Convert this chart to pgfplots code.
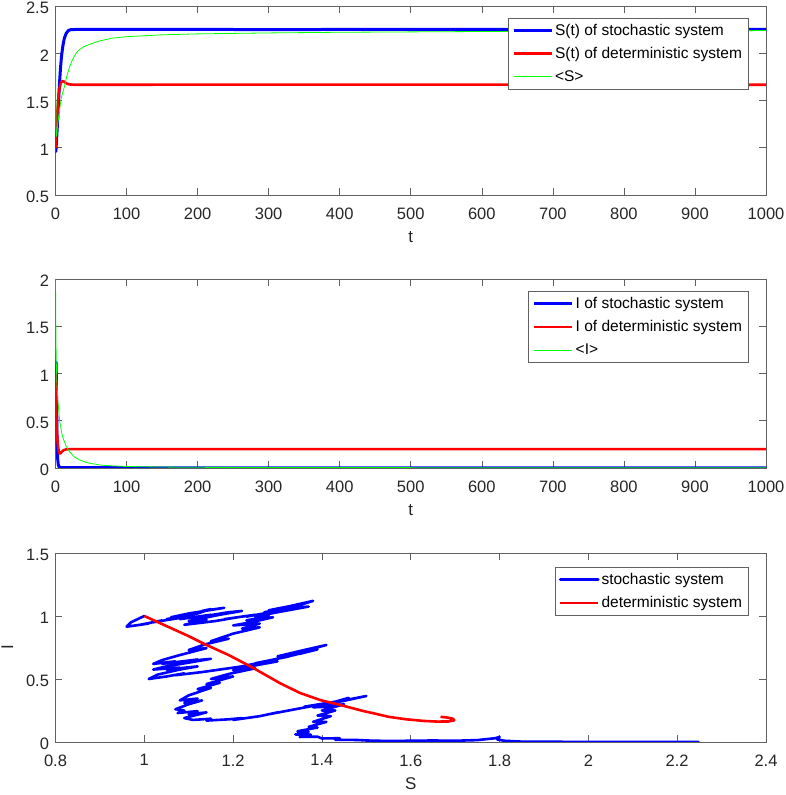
\documentclass[border=0pt]{standalone}
\usepackage{fontspec}
\setmainfont{Liberation Sans}
\usepackage{pgfplots}
\pgfplotsset{compat=1.18}
\definecolor{axgray}{rgb}{0.38,0.38,0.38}
\definecolor{txtgray}{rgb}{0.15,0.15,0.15}
\pgfplotsset{
  mybase/.style={
    width=710.5pt, height=189pt, scale only axis,
    axis line style={axgray, line width=0.6pt},
    every tick/.style={axgray, line width=0.6pt},
    major tick length=7pt,
    tick align=inside, tick pos=both,
    ticklabel style={font=\fontsize{16.5}{19}\selectfont, text=txtgray},
    xticklabel shift=9pt,
    yticklabel shift=3pt,
    yticklabel style={yshift=-2pt},
    label style={font=\fontsize{17}{20}\selectfont, text=txtgray},
    xlabel shift=5pt,
    /pgf/number format/assume math mode=true,
    /pgf/number format/1000 sep={},
    scaled ticks=false,
    enlargelimits=false,
    clip=true,
    legend style={font=\fontsize{15.5}{18}\selectfont, draw=axgray, line width=0.6pt,
      fill=white, anchor=north east, inner xsep=4pt, inner ysep=4pt, row sep=6.5pt},
    legend cell align=left,
    legend image code/.code={\draw[##1] (0pt,0pt) -- (38pt,0pt);},
  }
}
\begin{document}
\begin{tikzpicture}[x=1pt,y=1pt]
\path[use as bounding box] (0,0) rectangle (785,795);

% ---------------- top panel ----------------
\begin{axis}[mybase, at={(55.5pt,600pt)}, anchor=south west,
  xmin=0, xmax=1000, ymin=0.5, ymax=2.5,
  xtick={0,100,...,1000}, ytick={0.5,1,1.5,2,2.5},
  xlabel={t},
  legend style={at={(0.975,0.937)}}]
\addplot[blue, line width=3pt, line join=round] coordinates {
(0,1.0) (0.5,0.96) (1,1.02) (2,1.15) (3.3,1.33) (4.5,1.52) (5.7,1.69) (7,1.84)
(8.5,1.97) (10.4,2.08) (12.5,2.16) (15,2.21) (18,2.24) (22,2.25) (30,2.252)
(100,2.252) (300,2.251) (600,2.252) (1000,2.252)};
\addlegendentry{S(t) of stochastic system}
\addplot[red, line width=2.6pt, line join=round] coordinates {
(0,1.0) (1,1.15) (2,1.3) (3,1.42) (4,1.52) (5,1.59) (6,1.64) (7,1.675) (8.5,1.697)
(10,1.705) (12,1.70) (14,1.688) (17,1.675) (21,1.669) (30,1.667) (100,1.667)
(400,1.668) (1000,1.667)};
\addlegendentry{S(t) of deterministic system}
\addplot[green, line width=0.8pt, line join=round] coordinates {
(0,2.0) (0.4,1.6) (0.8,1.2) (1.2,1.12) (2,1.17) (3.3,1.26) (4.5,1.33) (5.7,1.40)
(8,1.52) (10,1.58) (12.7,1.65) (16,1.76) (20,1.86) (25,1.95) (30,2.01) (34,2.04)
(40,2.07) (50,2.10) (62,2.13) (80,2.16) (100,2.175) (150,2.195) (200,2.205)
(300,2.215) (400,2.222) (600,2.23) (800,2.235) (1000,2.24)};
\addlegendentry{<S>}
\end{axis}

% ---------------- middle panel ----------------
\begin{axis}[mybase, at={(55.5pt,327pt)}, anchor=south west,
  xmin=0, xmax=1000, ymin=0, ymax=2,
  xtick={0,100,...,1000}, ytick={0,0.5,1,1.5,2},
  xlabel={t},
  legend style={at={(0.975,0.936)}}]
\addplot[blue, line width=3pt, line join=round] coordinates {
(0,1.0) (0.4,1.12) (0.9,1.12) (1.5,0.7) (2.2,0.3) (3,0.1) (4,0.03) (5,0.012)
(7,0.006) (10,0.004) (50,0.003) (200,0.002) (1000,0.002)};
\addlegendentry{I of stochastic system}
\addplot[red, line width=2.6pt, line join=round] coordinates {
(0,1.0) (0.7,0.72) (1.5,0.48) (2.5,0.32) (3.5,0.23) (4.5,0.18) (5.7,0.155)
(7,0.155) (8.5,0.168) (10,0.18) (12,0.19) (15,0.197) (20,0.2) (100,0.2)
(1000,0.2)};
\addlegendentry{I of deterministic system}
\addplot[green, line width=0.8pt, line join=round] coordinates {
(0,2.0) (0.5,1.5) (1,1.15) (2,0.9) (3.3,0.72) (5.7,0.51) (8,0.40) (10,0.33)
(15,0.23) (20,0.17) (27,0.115) (34,0.085) (45,0.055) (62,0.032) (80,0.022)
(100,0.016) (150,0.01) (200,0.007) (400,0.004) (1000,0.002)};
\addlegendentry{<I>}
\end{axis}

% ---------------- bottom panel ----------------
\begin{axis}[mybase, at={(55.5pt,53pt)}, anchor=south west,
  xmin=0.8, xmax=2.4, ymin=0, ymax=1.5,
  xtick={0.8,1,1.2,1.4,1.6,1.8,2,2.2,2.4}, ytick={0,0.5,1,1.5},
  xlabel={S}, ylabel={I}, ylabel shift=6pt,
  legend style={at={(0.975,0.926)}}]
\addplot[blue, line width=2.6pt, line join=round, line cap=round] coordinates {
(1.00,1.00) (0.97,0.95) (0.96,0.915) (1.01,0.94) (0.99,0.93) (1.04,0.965)
(1.02,0.95) (1.08,0.985) (1.05,0.975) (1.12,1.02) (1.15,1.055) (1.13,1.04)
(1.18,1.065) (1.10,1.02) (1.06,0.99) (1.11,1.005) (1.08,0.975) (1.15,1.01)
(1.12,0.99) (1.19,1.03) (1.22,1.04) (1.17,1.01) (1.10,0.96) (1.14,0.97)
(1.09,0.93) (1.16,0.96) (1.21,0.99) (1.18,0.975) (1.25,1.01) (1.23,0.995)
(1.30,1.04) (1.27,1.03) (1.34,1.075) (1.38,1.12) (1.33,1.08) (1.28,1.045)
(1.31,1.05) (1.37,1.075) (1.30,1.03) (1.25,0.995) (1.28,1.0) (1.23,0.965)
(1.29,0.99) (1.24,0.95) (1.20,0.925) (1.26,0.94)
(1.22,0.90) (1.26,0.91) (1.20,0.86) (1.15,0.80) (1.19,0.82) (1.137,0.775)
(1.10,0.73) (1.14,0.745) (1.08,0.69) (1.04,0.65) (1.02,0.62)
(1.07,0.64) (1.04,0.62) (1.12,0.655) (1.09,0.64) (1.15,0.66) (1.05,0.60)
(1.02,0.575) (1.08,0.59) (1.05,0.575) (1.12,0.60) (1.08,0.575) (1.03,0.535)
(1.01,0.50) (1.05,0.52) (1.09,0.545) (1.07,0.53) (1.13,0.555) (1.18,0.58)
(1.15,0.565) (1.22,0.60) (1.28,0.645) (1.25,0.625) (1.32,0.675) (1.37,0.72)
(1.33,0.695) (1.41,0.77) (1.36,0.73) (1.30,0.68) (1.35,0.70) (1.39,0.735)
(1.33,0.685) (1.26,0.63) (1.30,0.64) (1.23,0.595) (1.20,0.57) (1.25,0.585)
(1.19,0.54) (1.15,0.50)
(1.20,0.52) (1.14,0.46) (1.17,0.47) (1.12,0.42) (1.15,0.43) (1.10,0.37)
(1.08,0.33) (1.12,0.345) (1.09,0.31)
(1.13,0.33) (1.10,0.30) (1.07,0.26) (1.09,0.25) (1.075,0.23) (1.12,0.245)
(1.10,0.22) (1.14,0.235) (1.09,0.19) (1.11,0.175) (1.15,0.185) (1.14,0.17)
(1.19,0.18) (1.22,0.19) (1.20,0.175) (1.26,0.205) (1.30,0.235) (1.28,0.22)
(1.34,0.26) (1.40,0.30) (1.36,0.28) (1.43,0.32) (1.46,0.35) (1.42,0.31)
(1.50,0.365) (1.44,0.32) (1.38,0.275) (1.41,0.28) (1.45,0.30) (1.40,0.25)
(1.43,0.25)
(1.39,0.21) (1.42,0.205) (1.38,0.16) (1.41,0.16) (1.37,0.12) (1.39,0.115)
(1.345,0.085) (1.37,0.08) (1.34,0.06) (1.375,0.058) (1.35,0.04) (1.39,0.042)
(1.40,0.028) (1.44,0.03) (1.43,0.018) (1.48,0.016) (1.50,0.012) (1.55,0.008)
(1.60,0.01) (1.65,0.012) (1.70,0.01) (1.75,0.015) (1.79,0.03) (1.80,0.04)
(1.795,0.02) (1.81,0.01) (1.85,0.003) (1.90,0.002) (2.00,0.001) (2.10,0.0)
(2.248,0.0)};
\addlegendentry{stochastic system}
\addplot[red, line width=2.6pt, line join=round] coordinates {
(1,1) (1.05,0.92) (1.1,0.84) (1.134,0.78) (1.19,0.69) (1.239,0.6) (1.306,0.466)
(1.35,0.39) (1.396,0.333) (1.44,0.295) (1.494,0.245) (1.516,0.228) (1.55,0.2)
(1.59,0.18) (1.63,0.167) (1.66,0.162) (1.685,0.163) (1.698,0.172) (1.695,0.185)
(1.68,0.195) (1.667,0.2)};
\addlegendentry{deterministic system}
\end{axis}
\end{tikzpicture}
\end{document}
